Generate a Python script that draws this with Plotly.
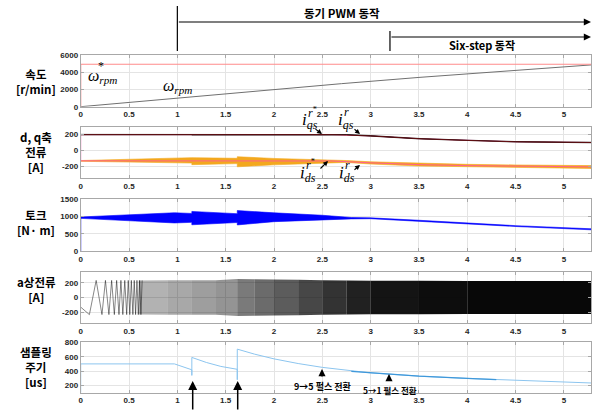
import plotly.graph_objects as go

W, H = 605, 412

# ---------------- data ----------------
x_tick_vals = [0, 0.5, 1, 1.5, 2, 2.5, 3, 3.5, 4, 4.5, 5]
x_tick_text = ["0", "0.5", "1", "1.5", "2", "2.5", "3", "3.5", "4", "4.5", "5"]
t_end = 5.28

# panel 1: speed [r/min]
speed_ref_t = [0, 0, 5.28]
speed_ref = [0, 4900, 4900]
speed_t = [0, 1, 2, 2.7, 3.5, 4.5, 5.28]
speed = [0, 1000, 1980, 2660, 3380, 4180, 4820]

# panel 2: d, q axis current [A]
iq_t = [0, 1.15, 1.15, 1.62, 1.62, 2.0, 2.5, 2.75, 3.0, 3.5, 4.0, 4.5, 5.28]
iq_upper = [203, 203, 206, 205, 210, 208, 206, 201, 188, 152, 130, 113, 104]
iq_lower = [198, 198, 194, 195, 190, 192, 194, 196, 181, 146, 124, 107, 98]
iq_ref_t = [0, 0, 2.6, 3.0, 3.5, 4.0, 4.5, 5.28]
iq_ref = [-130, 200, 200, 184, 149, 127, 110, 101]

id_t = [0, 1.15, 1.15, 1.62, 1.62, 2.0, 2.5, 2.75, 3.0, 3.5, 4.0, 4.5, 5.28]
id_upper = [-126, -92, -90, -98, -78, -100, -115, -126, -142, -162, -174, -182, -190]
id_lower = [-136, -158, -178, -165, -205, -180, -160, -150, -170, -195, -205, -215, -226]
id_ref_t = [0, 2.6, 3.0, 3.5, 4.0, 4.5, 5.28]
id_ref = [-130, -132, -155, -178, -190, -198, -206]

# panel 3: torque [N m]
torque_t = [0, 0.97, 1.15, 1.15, 1.62, 1.62, 2.0, 2.5, 2.8, 3.0, 3.5, 4.0, 4.5, 5.28]
torque_upper = [990, 1112, 1092, 1150, 1085, 1175, 1110, 1040, 975, 965, 895, 815, 740, 650]
torque_lower = [950, 818, 835, 765, 830, 760, 855, 900, 935, 940, 860, 785, 715, 620]

# panel 4: a-phase current [A]  (first visible cycles: peak times / values)
ia_peak_t = [0, 0.09, 0.16, 0.22, 0.256, 0.292, 0.32, 0.348, 0.372, 0.396, 0.416,
             0.436, 0.456, 0.476, 0.492, 0.508, 0.524, 0.54, 0.554, 0.568, 0.582,
             0.596, 0.61, 0.623, 0.636]
ia_peak = [-130, -232, 232, -232, 232, -232, 232, -232, 232, -232, 232,
           -232, 232, -232, 232, -232, 232, -232, 232, -232, 232,
           -232, 232, -232, 232]
# dense part: envelope and shading per interval
ia_env_t = [0.6, 0.9, 1.15, 1.4, 1.62, 1.8, 2.0, 2.25, 2.5, 2.75, 3.0, 3.5, 4.0, 5.28]
ia_env_upper = [232, 233, 235, 235, 250, 247, 244, 240, 235, 231, 228, 226, 225, 225]
ia_env_lower = [-232, -233, -235, -235, -250, -247, -244, -240, -235, -231, -228, -226, -225, -225]
ia_shade = [0.30, 0.34, 0.38, 0.42, 0.52, 0.58, 0.64, 0.72, 0.80, 0.87, 0.92, 0.95, 0.97]

# panel 5: sampling period [us]
samp_t = [0, 0, 0.97, 0.98, 1.06, 1.15, 1.15, 1.15, 1.3, 1.45, 1.62, 1.62, 1.62,
          1.8, 2.0, 2.25, 2.5, 3.0, 3.5, 4.0, 4.5, 5.0, 5.28]
samp = [100, 500, 500, 495, 455, 418, 340, 590, 520, 465, 425, 280, 705,
        635, 570, 505, 452, 375, 330, 298, 270, 245, 235]
samp_dark_t = [2.8, 3.0, 3.5, 4.0, 4.3]
samp_dark = [397, 375, 330, 298, 281]

p1_yt = [0, 2000, 4000, 6000]
p2_yt = [-200, 0, 200]
p3_yt = [0, 500, 1000, 1500]
p4_yt = [-200, 0, 200]
p5_yt = [200, 400, 600, 800]

# ---------------- layout helpers ----------------
X0, X1 = 80.7, 591.0
panels_px = [(54.7, 106.7), (126.7, 178.3), (199.3, 251.3), (271.7, 323.3), (342.3, 392.7)]
yranges = [[0, 6000], [-350, 300], [0, 1500], [-350, 350], [100, 800]]
yticks = [p1_yt, p2_yt, p3_yt, p4_yt, p5_yt]


def px(x):
    return x / W


def py(y):
    return 1 - y / H


fig = go.Figure()


def ax_ids(k):
    s = "" if k == 1 else str(k)
    return "x" + s, "y" + s


def band(t, up, lo, color, k, lw=0.6):
    xa, ya = ax_ids(k)
    fig.add_trace(go.Scatter(x=list(t) + list(t)[::-1], y=list(up) + list(lo)[::-1],
                             fill="toself", fillcolor=color, mode="lines",
                             line=dict(color=color, width=lw),
                             xaxis=xa, yaxis=ya, hoverinfo="skip"))


def line(t, v, color, k, w=1.0):
    xa, ya = ax_ids(k)
    fig.add_trace(go.Scatter(x=t, y=v, mode="lines", line=dict(color=color, width=w),
                             xaxis=xa, yaxis=ya, hoverinfo="skip"))


# panel 1
line(speed_t, speed, "#707070", 1, 1.0)
line(speed_ref_t, speed_ref, "#ff8c8c", 1, 1.2)
# panel 2
band(id_t, id_upper, id_lower, "#f3a81e", 2)
line(id_ref_t, id_ref, "#ff5f8f", 2, 1.0)
line(iq_ref_t, iq_ref, "#ff66b8", 2, 1.0)
band(iq_t, iq_upper, iq_lower, "#111111", 2, 0.8)
line(iq_ref_t[1:], iq_ref[1:], "rgba(190,0,0,0.6)", 2, 0.7)
# panel 3
line([0, 0], [0, 970], "#0000ff", 3, 1.0)
band(torque_t, torque_upper, torque_lower, "#0000ff", 3)
# panel 4
line(ia_peak_t, ia_peak, "rgba(0,0,0,0.6)", 4, 0.8)
for i in range(len(ia_env_t) - 1):
    tt = [ia_env_t[i], ia_env_t[i + 1]]
    band(tt, [ia_env_upper[i], ia_env_upper[i + 1]], [ia_env_lower[i], ia_env_lower[i + 1]],
         "rgba(0,0,0,%.2f)" % ia_shade[i], 4, 0.0)
# panel 5
line(samp_t, samp, "#8cc5ef", 5, 1.0)
line(samp_dark_t, samp_dark, "#3f98da", 5, 1.2)

axis_font = dict(family="Liberation Sans Narrow, Liberation Sans, Arial", size=8, color="#262626")
layout = dict(width=W, height=H, margin=dict(l=0, r=0, t=0, b=0, autoexpand=False),
              paper_bgcolor="white", plot_bgcolor="white", showlegend=False)
for k in range(1, 6):
    top, bot = panels_px[k - 1]
    sx = "" if k == 1 else str(k)
    common = dict(showgrid=True, gridcolor="#e4e4e4", gridwidth=1,
                  showline=True, linecolor="#a8a8a8", linewidth=1, mirror="ticks",
                  ticks="inside", ticklen=3, tickcolor="#a8a8a8",
                  tickfont=axis_font, zeroline=False, fixedrange=True, automargin=False)
    layout["xaxis" + sx] = dict(domain=[px(X0), px(X1)], range=[0, t_end], anchor="y" + sx,
                                tickvals=x_tick_vals,
                                ticktext=["<b>%s</b>" % s for s in x_tick_text], **common)
    layout["yaxis" + sx] = dict(domain=[py(bot), py(top)], range=yranges[k - 1], anchor="x" + sx,
                                tickvals=yticks[k - 1],
                                ticktext=["<b>%d</b>" % v for v in yticks[k - 1]], **common)
fig.update_layout(**layout)

kfont = "Noto Sans CJK KR"
ann = []
# y titles
ytitles = [("속도<br>[r/min]", 81), ("d, q축<br>전류<br>[A]", 152), ("토크<br>[N· m]", 222),
           ("a상전류<br>[A]", 289), ("샘플링<br>주기<br>[us]", 367)]
for txt, yc in ytitles:
    ann.append(dict(text="<b>%s</b>" % txt, x=px(36), y=py(yc), xref="paper", yref="paper",
                    showarrow=False, font=dict(family=kfont, size=11.5, color="black"),
                    xanchor="center", yanchor="middle", align="center"))

# top operation ranges
ann.append(dict(text="<b>동기 PWM 동작</b>", x=px(342), y=py(13), xref="paper", yref="paper",
                showarrow=False, xanchor="center", yanchor="middle",
                font=dict(family=kfont, size=11.5, color="black")))
ann.append(dict(text="<b>Six-step 동작</b>", x=px(482), y=py(45), xref="paper", yref="paper",
                showarrow=False, xanchor="center", yanchor="middle",
                font=dict(family=kfont, size=11, color="black")))
ann.append(dict(text="", x=t_end, y=py(22), xref="x", yref="paper", ax=1, axref="x", ay=0,
                ayref="pixel", showarrow=True, arrowhead=2, arrowsize=1.2, arrowwidth=1.2,
                arrowcolor="black"))
ann.append(dict(text="", x=t_end, y=py(37), xref="x", yref="paper", ax=3.2, axref="x", ay=0,
                ayref="pixel", showarrow=True, arrowhead=2, arrowsize=1.2, arrowwidth=1.2,
                arrowcolor="black"))


def math(txt, xp, yp, size=16):
    ann.append(dict(text=txt, x=px(xp), y=py(yp), xref="paper", yref="paper", showarrow=False,
                    font=dict(family="Liberation Serif, DejaVu Serif", size=size, color="black"),
                    xanchor="left", yanchor="middle"))


math("<i>ω<sub>rpm</sub></i>", 86, 76)
math("*", 96, 66, 12)
math("<i>ω<sub>rpm</sub></i>", 161, 86)

math("<i>i<sub>qs</sub></i>", 300, 121, 17)
math("<i>r</i><sup>*</sup>", 306, 112, 12)
math("<i>i<sub>qs</sub></i>", 336, 121, 17)
math("<i>r</i>", 342, 112, 12)
math("<i>i<sub>ds</sub></i>", 298, 174, 17)
math("<i>r</i><sup>*</sup>", 304, 165, 12)
math("<i>i<sub>ds</sub></i>", 337, 174, 17)
math("<i>r</i>", 343, 165, 12)


def arrow(hx, hy, tx, ty, w=1.2, size=1.0):
    ann.append(dict(text="", x=px(hx), y=py(hy), xref="paper", yref="paper",
                    ax=tx - hx, ay=ty - hy, axref="pixel", ayref="pixel", showarrow=True,
                    arrowhead=2, arrowsize=size, arrowwidth=w, arrowcolor="black"))


arrow(322, 134, 314, 128, 1.1, 0.9)
arrow(360, 134, 353, 128, 1.1, 0.9)
arrow(328, 161, 319, 170, 1.1, 0.9)
arrow(360, 165, 353, 171, 1.1, 0.9)

arrow(192.7, 381, 192.7, 411, 1.5, 1.2)
arrow(237.7, 381, 237.7, 411, 1.5, 1.2)
arrow(322, 369, 322, 378, 1.3, 1.1)
arrow(389, 374, 389, 382, 1.3, 1.1)
ann.append(dict(text="<b>9→5 펄스 전환</b>", x=px(323), y=py(386), xref="paper", yref="paper",
                showarrow=False, xanchor="center", yanchor="middle",
                font=dict(family=kfont, size=9, color="black")))
ann.append(dict(text="<b>5→1 펄스 전환</b>", x=px(390), y=py(389.5), xref="paper", yref="paper",
                showarrow=False, xanchor="center", yanchor="middle",
                font=dict(family=kfont, size=8.5, color="black")))

shapes = [
    dict(type="line", xref="x", yref="paper", x0=1, x1=1, y0=py(6), y1=py(51),
         line=dict(color="black", width=1.2)),
    dict(type="line", xref="x", yref="paper", x0=3.2, x1=3.2, y0=py(31), y1=py(51),
         line=dict(color="black", width=1.2)),
]
fig.update_layout(annotations=ann, shapes=shapes)
fig.write_html("out.html", config={"displayModeBar": False, "staticPlot": True},
               post_script="document.body.style.margin='0';document.body.style.overflow='hidden';")
